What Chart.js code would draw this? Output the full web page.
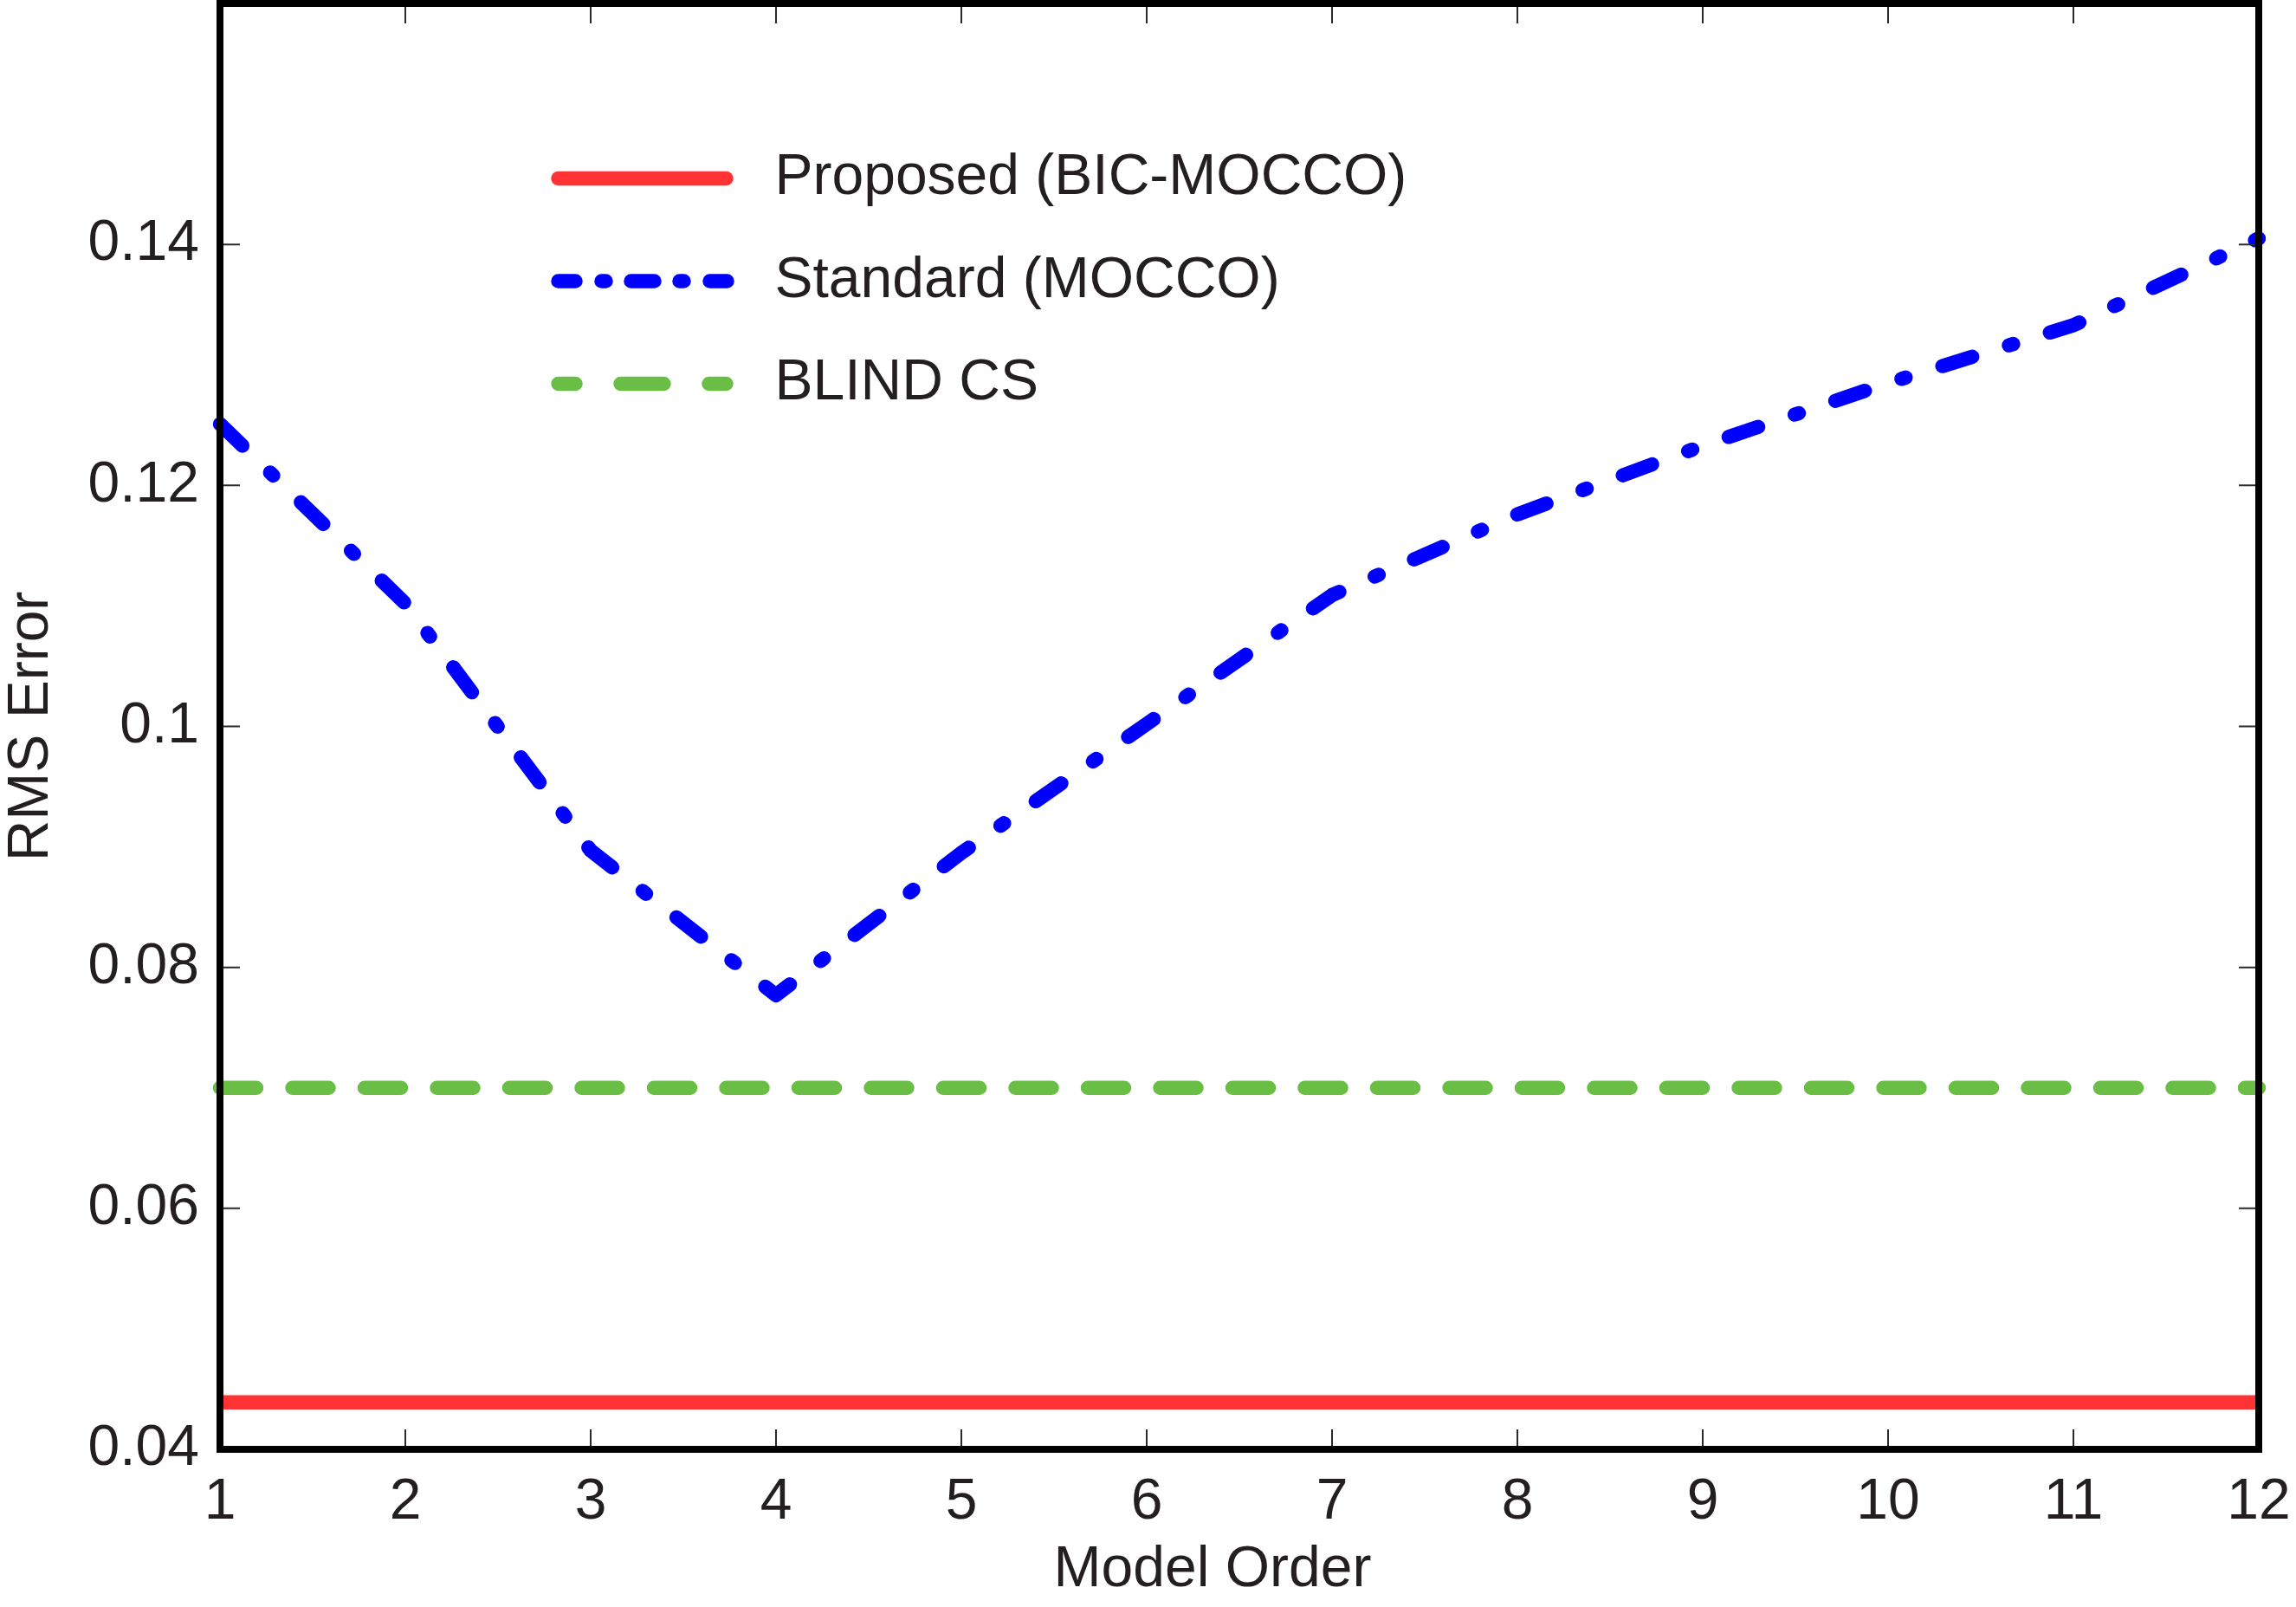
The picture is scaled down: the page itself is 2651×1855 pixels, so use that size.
<!DOCTYPE html>
<html>
<head>
<meta charset="utf-8">
<script src="https://cdn.jsdelivr.net/npm/chart.js@4.4.1/dist/chart.umd.min.js"></script>
<style>
  html, body { margin: 0; padding: 0; background: #ffffff; }
  #c { display: block; }
</style>
</head>
<body>
<canvas id="c" width="2651" height="1855" style="width:2651px;height:1855px"></canvas>
<script>
// ---- data ----
const categories = ['1', '2', '3', '4', '5', '6', '7', '8', '9', '10', '11', '12'];
const seriesNames = ['Proposed (BIC-MOCCO)', 'Standard (MOCCO)', 'BLIND CS'];
const proposed = [0.0439, 0.0439, 0.0439, 0.0439, 0.0439, 0.0439, 0.0439, 0.0439, 0.0439, 0.0439, 0.0439, 0.0439];
const standard = [0.1251, 0.1102, 0.0897, 0.0777, 0.0895, 0.1002, 0.1109, 0.1176, 0.1233, 0.1285, 0.1333, 0.1405];
const blindCS = [0.0700, 0.0700, 0.0700, 0.0700, 0.0700, 0.0700, 0.0700, 0.0700, 0.0700, 0.0700, 0.0700, 0.0700];
const yTickValues = [0.04, 0.06, 0.08, 0.10, 0.12, 0.14];
const yTickLabels = ['0.04', '0.06', '0.08', '0.1', '0.12', '0.14'];
const xTitle = 'Model Order';
const yTitle = 'RMS Error';

// ---- style ----
const FONT = "'Liberation Sans', Arial, Helvetica, sans-serif";
const TEXT = '#231f20';
const RED = '#ff3333', BLUE = '#0000ff', GREEN = '#6abd45';
const LW = 16.5;

// legend sample dash patterns (sample box 240 px, 23 px blank at each end)
const legendDash = [
  [194, 46],
  [20, 30, 5, 29, 27, 29, 5, 30, 20, 45],
  [20, 52, 50, 52, 20, 46]
];

const framePlugin = {
  id: 'frame',
  afterLayout(chart) {
    const lg = chart.legend;
    if (lg) {
      lg.left = 569; lg.top = 120.5;
      lg.right = 2500; lg.bottom = 1600;
    }
    const xs = chart.scales.x;
    if (xs && !xs._titleShifted) {
      xs._titleShifted = true;
      const orig = xs.drawTitle.bind(xs);
      xs.drawTitle = function () {
        const l = this.left, r = this.right;
        this.left = l - 31; this.right = r - 31;
        orig();
        this.left = l; this.right = r;
      };
    }
  },
  afterDatasetsDraw(chart) {
    const {ctx, chartArea: a, scales: {x, y}} = chart;
    ctx.save();
    ctx.strokeStyle = '#2a2a2a';
    ctx.lineWidth = 2;
    ctx.lineCap = 'butt';
    ctx.setLineDash([]);
    const T = 23;
    ctx.beginPath();
    x.ticks.forEach((t, i) => {
      const px = x.getPixelForTick(i);
      ctx.moveTo(px, a.bottom); ctx.lineTo(px, a.bottom - T);
      ctx.moveTo(px, a.top); ctx.lineTo(px, a.top + T);
    });
    y.ticks.forEach((t, i) => {
      const py = y.getPixelForTick(i);
      ctx.moveTo(a.left, py); ctx.lineTo(a.left + T, py);
      ctx.moveTo(a.right, py); ctx.lineTo(a.right - T, py);
    });
    ctx.stroke();
    ctx.strokeStyle = '#000000';
    ctx.lineWidth = 8;
    ctx.lineJoin = 'miter';
    ctx.strokeRect(a.left, a.top, a.right - a.left, a.bottom - a.top);
    ctx.restore();
  }
};

Chart.defaults.font.family = FONT;
Chart.defaults.font.size = 66;
Chart.defaults.color = TEXT;

new Chart(document.getElementById('c'), {
  type: 'line',
  data: {
    labels: categories,
    datasets: [
      { label: seriesNames[0], data: proposed, borderColor: RED, backgroundColor: RED,
        borderWidth: LW, pointRadius: 0, tension: 0, borderCapStyle: 'butt', fill: false },
      { label: seriesNames[1], data: standard, borderColor: BLUE, backgroundColor: BLUE,
        borderWidth: LW, pointRadius: 0, tension: 0, borderDash: [36, 44.5, 5, 44.5],
        borderCapStyle: 'round', borderJoinStyle: 'round', fill: false },
      { label: seriesNames[2], data: blindCS, borderColor: GREEN, backgroundColor: GREEN,
        borderWidth: LW, pointRadius: 0, tension: 0, borderDash: [42, 41.5],
        borderCapStyle: 'round', fill: false }
    ]
  },
  options: {
    responsive: false,
    animation: false,
    devicePixelRatio: 1,
    layout: { padding: { left: 0, right: 43, top: 4, bottom: 0 } },
    plugins: {
      tooltip: { enabled: false },
      legend: {
        position: 'chartArea',
        align: 'start',
        labels: {
          usePointStyle: true,
          pointStyle: 'line',
          pointStyleWidth: 240,
          boxHeight: 20,
          padding: 52.5,
          color: TEXT,
          font: { family: FONT, size: 66 },
          generateLabels(chart) {
            const items = Chart.defaults.plugins.legend.labels.generateLabels(chart);
            return items.map((it, i) => Object.assign(it, {
              pointStyle: 'line',
              lineDash: legendDash[i],
              lineDashOffset: 217,
              lineCap: 'round',
              lineWidth: LW,
              fontColor: TEXT
            }));
          }
        }
      }
    },
    scales: {
      x: {
        type: 'category',
        offset: false,
        grid: { display: false, drawTicks: false },
        border: { display: false },
        ticks: { autoSkip: false, maxRotation: 0, minRotation: 0, padding: 22, color: TEXT,
                 font: { family: FONT, size: 66 } },
        title: { display: true, text: xTitle, color: TEXT,
                 font: { family: FONT, size: 66, lineHeight: 1.2 }, padding: { top: 0, bottom: 3 } },
        afterFit(s) { s.height = 182; s.paddingLeft = 0; s.paddingRight = 0; s.paddingTop = 0; s.paddingBottom = 0; }
      },
      y: {
        type: 'linear',
        min: 0.04,
        max: 0.16,
        grid: { display: false, drawTicks: false },
        border: { display: false },
        afterBuildTicks(s) { s.ticks = yTickValues.map(v => ({ value: v })); },
        ticks: {
          padding: 24, color: TEXT, font: { family: FONT, size: 66 },
          callback(value, index) { return yTickLabels[index]; }
        },
        title: { display: true, text: yTitle, color: TEXT,
                 font: { family: FONT, size: 66, lineHeight: 1.12 }, padding: { top: 0, bottom: 0 } },
        afterFit(s) { s.width = 254; s.paddingTop = 0; s.paddingBottom = 0; s.paddingLeft = 0; s.paddingRight = 0; }
      }
    }
  },
  plugins: [framePlugin]
});
</script>
</body>
</html>
